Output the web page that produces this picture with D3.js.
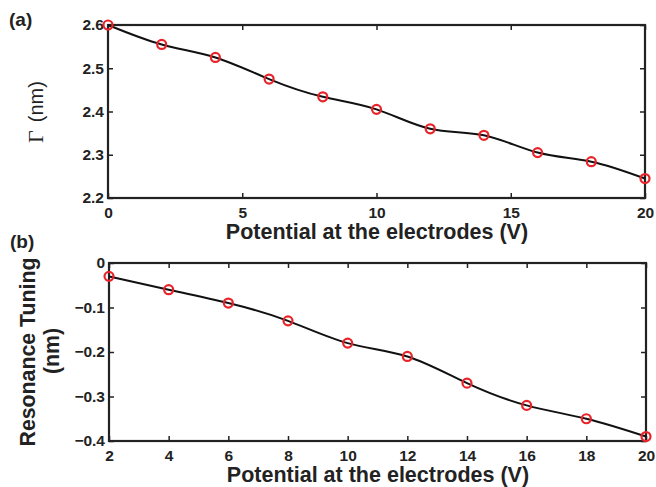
<html>
<head>
<meta charset="utf-8">
<script src="https://d3js.org/d3.v7.min.js"></script>
<style>
  body { margin: 0; background: #fff; }
  text { font-family: "Liberation Sans", Arial, sans-serif; fill: #222; }
  .tick text { font-size: 15.5px; font-weight: bold; }
</style>
</head>
<body>
<script>
// panel (a)
const voltsA = [0, 2, 4, 6, 8, 10, 12, 14, 16, 18, 20];
const gamma = [2.600, 2.555, 2.525, 2.475, 2.434, 2.405, 2.360, 2.345, 2.305, 2.284, 2.245];
const xTicksA = [0, 5, 10, 15, 20];
const yTicksA = [2.2, 2.3, 2.4, 2.5, 2.6];

// panel (b)
const voltsB = [2, 4, 6, 8, 10, 12, 14, 16, 18, 20];
const tuning = [-0.03, -0.06, -0.09, -0.13, -0.18, -0.21, -0.27, -0.32, -0.35, -0.39];
const xTicksB = [2, 4, 6, 8, 10, 12, 14, 16, 18, 20];
const yTicksB = [-0.4, -0.3, -0.2, -0.1, 0];

const svg = d3.select('body').append('svg')
  .attr('width', 656).attr('height', 487);

function panel(xs, ys, xdom, ydom, xticks, yticks, yfmt, box) {
  const x = d3.scaleLinear().domain(xdom).range([box.left, box.right]);
  const y = d3.scaleLinear().domain(ydom).range([box.bottom, box.top]);
  const h = box.bottom - box.top, w = box.right - box.left;
  const g = svg.append('g');

  // inward ticks on all four sides
  g.append('g').attr('transform', `translate(0,${box.bottom})`)
    .call(d3.axisBottom(x).tickValues(xticks).tickSize(-5).tickPadding(9).tickFormat(d3.format('d')));
  g.append('g').attr('transform', `translate(0,${box.top})`)
    .call(d3.axisTop(x).tickValues(xticks).tickSize(-5).tickFormat(''));
  g.append('g').attr('transform', `translate(${box.left},0)`)
    .call(d3.axisLeft(y).tickValues(yticks).tickSize(-5).tickPadding(4).tickFormat(yfmt));
  g.append('g').attr('transform', `translate(${box.right},0)`)
    .call(d3.axisRight(y).tickValues(yticks).tickSize(-5).tickFormat(''));
  g.selectAll('.domain').remove();
  g.selectAll('.tick line').attr('stroke', '#222').attr('stroke-width', 1.5);
  g.selectAll('.tick text').attr('fill', '#222');

  g.append('rect')
    .attr('x', box.left).attr('y', box.top).attr('width', w).attr('height', h)
    .attr('fill', 'none').attr('stroke', '#222').attr('stroke-width', 2.2);

  const pts = xs.map((v, i) => [v, ys[i]]);
  g.append('path')
    .datum(pts)
    .attr('d', d3.line().x(d => x(d[0])).y(d => y(d[1])).curve(d3.curveNatural))
    .attr('fill', 'none').attr('stroke', '#111').attr('stroke-width', 2);

  g.selectAll('circle.pt').data(pts).enter().append('circle')
    .attr('class', 'pt')
    .attr('cx', d => x(d[0])).attr('cy', d => y(d[1])).attr('r', 4.5)
    .attr('fill', 'none').attr('stroke', '#e8242a').attr('stroke-width', 2.2);

  svg.append('text')
    .attr('x', (box.left + box.right) / 2 + 0.5).attr('y', box.bottom + 41)
    .attr('text-anchor', 'middle')
    .style('font-size', '21.5px').style('font-weight', 'bold')
    .text('Potential at the electrodes (V)');
}

panel(voltsA, gamma, [0, 20], [2.2, 2.6], xTicksA, yTicksA, d3.format('.1f'),
  {left: 108, right: 645, top: 25, bottom: 198});
panel(voltsB, tuning, [2, 20], [-0.4, 0], xTicksB, yTicksB,
  d => d === 0 ? '0' : d3.format('.1f')(d).replace('-', '\u2212'),
  {left: 109, right: 646, top: 263, bottom: 441});

// panel letters
svg.append('text').attr('x', 9).attr('y', 26)
  .style('font-size', '19px').style('font-weight', 'bold').text('(a)');
svg.append('text').attr('x', 10).attr('y', 248)
  .style('font-size', '19px').style('font-weight', 'bold').text('(b)');

// y labels
const ya = svg.append('text')
  .attr('transform', 'translate(43,143) rotate(-90)')
  .attr('text-anchor', 'start')
  .style('fill', '#222');
ya.append('tspan').style('font-family', '"Liberation Serif", serif')
  .style('font-size', '22px').style('fill', '#222').text('\u0393');
ya.append('tspan').attr('dx', 8).style('font-size', '20px').style('fill', '#222').text('(nm)');

svg.append('text')
  .attr('transform', 'translate(35,352) rotate(-90)')
  .attr('text-anchor', 'middle')
  .style('font-size', '21.3px').style('font-weight', 'bold')
  .text('Resonance Tuning');
svg.append('text')
  .attr('transform', 'translate(59,351) rotate(-90)')
  .attr('text-anchor', 'middle')
  .style('font-size', '21.3px').style('font-weight', 'bold')
  .text('(nm)');
</script>
</body>
</html>
